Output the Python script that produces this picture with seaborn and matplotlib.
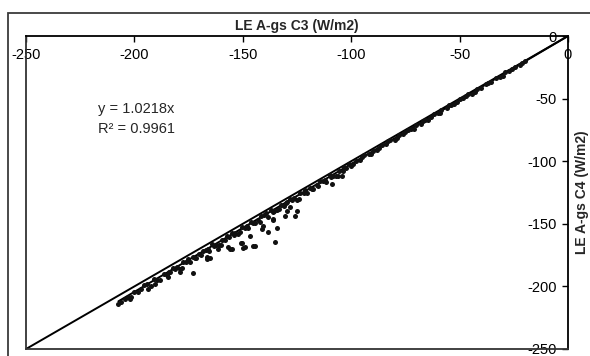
import matplotlib
matplotlib.use("Agg")
import matplotlib.pyplot as plt
import seaborn as sns
import pandas as pd
from matplotlib.patches import Rectangle

# ---------------- data ----------------
band_x_upper = [-20, -22, -24.5, -27, -29, -31.5, -33, -35.5, -38, -40, -42, -44.5, -46, -48.5,
                -50, -52.5, -54, -56, -58.5, -60, -62, -64.5, -66, -68, -70, -72.5, -74, -76,
                -78, -80, -82, -84, -86, -88, -90, -92, -94, -96, -98, -100,
                -21, -26, -30, -37, -43, -47, -51, -55, -59, -63, -67, -71, -75, -79, -83,
                -87, -91, -95, -99]
band_y_upper = [-20.1, -23.1, -24.6, -27.9, -28.8, -32.9, -33.5, -36.7, -38.2, -41.8, -42.6, -46.0,
                -46.1, -49.8, -50.6, -54.6, -54.8, -57.8, -59.1, -61.6, -62.4, -66.7, -67.2, -70.6,
                -70.9, -74.5, -74.7, -78.4, -79.4, -82.9, -83.3, -86.1, -87.1, -90.8, -91.6, -94.5,
                -95.1, -99.4, -99.9, -102.8,
                -21.7, -26.1, -31.7, -37.8, -45.1, -47.6, -52.9, -55.5, -61.3, -64.3, -67.6, -74.0,
                -76.6, -81.7, -83.7, -89.3, -94.5, -96.5, -102.3]

band_x_lower = [-101, -102.5, -104, -105.5, -107, -108.5, -110, -111.5, -113, -114.5, -116, -117.5,
                -119, -120.5, -122, -123.5, -125, -126.5, -128, -129.5, -131, -132.5, -134, -135.5,
                -137, -138.5, -140, -141.5, -143, -144.5, -146, -147.5, -149, -150.5, -152, -153.5,
                -155, -156.5, -158, -159.5, -161, -162.5, -164, -165.5, -167, -168.5, -170, -171.5,
                -173, -174.5, -176, -177.5, -179, -180.5, -182, -183.5, -185, -186.5, -188, -189.5,
                -191, -192.5, -194, -195.5, -197, -198.5, -200, -201.5, -203, -204.5, -206,
                -100.2, -103.2, -106.2, -109.2, -112.2, -115.2, -118.2, -121.2, -124.2, -127.2,
                -130.2, -133.2, -136.2, -139.2, -142.2, -145.2, -148.2, -151.2, -154.2, -157.2,
                -160.2, -163.2, -166.2, -169.2, -172.2, -175.2, -178.2, -181.2, -184.2]
band_y_lower = [-102.4, -105.3, -108.1, -107.5, -111.7, -111.9, -111.3, -116.8, -115.7, -116.2,
                -119.1, -121.9, -121.3, -125.5, -125.7, -125.1, -130.6, -129.5, -130.0, -132.9,
                -135.7, -135.1, -139.3, -139.5, -138.9, -144.4, -143.3, -143.8, -146.7, -149.5,
                -148.9, -153.1, -153.3, -152.7, -158.2, -157.1, -157.6, -160.5, -163.2, -162.7,
                -166.9, -167.0, -166.5, -172.0, -170.8, -171.4, -174.3, -177.0, -176.5, -180.7,
                -180.8, -180.3, -185.8, -184.6, -185.2, -188.1, -190.8, -190.3, -194.5, -194.6,
                -194.1, -199.6, -198.4, -199.0, -201.9, -204.6, -204.1, -208.3, -208.4, -210.2,
                -212.5,
                -103.6, -105.0, -111.8, -112.4, -114.7, -119.7, -122.0, -123.3, -130.2, -130.8,
                -133.0, -138.1, -140.4, -141.7, -148.6, -149.2, -151.4, -156.5, -158.8, -160.1,
                -167.0, -167.6, -169.8, -174.9, -177.2, -178.5, -185.4, -186.0, -188.2]

outlier_x = [-104.4, -109, -125.9, -125.1, -129.8, -128.2, -130.5, -135.9, -134.1, -135.1, -138.2,
             -140.5, -146.7, -145.2, -144.5, -149.8, -151, -155.1, -156.7, -161.3, -165.1, -166.7,
             -172.8, -179, -184.4, -190.5, -193.6, -202, -207.4, -141.3, -150.5, -149, -155.9,
             -166.7, -135.9]
outlier_y = [-112.2, -118.0, -143.4, -139.4, -139.4, -136.8, -143.4, -146.1, -153.6, -164.8, -156.8,
             -151.4, -159.5, -167.5, -168.0, -169.3, -165.6, -170.1, -168.8, -170.1, -177.3, -178.1,
             -189.4, -188.3, -192.8, -198.2, -202.2, -210.2, -213.7, -154.1, -165.6, -168.8, -170.1,
             -176.8, -146.9]

slope = 1.0218
r2 = 0.9961
ticks = [-250, -200, -150, -100, -50, 0]
x_title = "LE A-gs C3 (W/m2)"
y_title = "LE A-gs C4 (W/m2)"

df = pd.DataFrame({
    "c3": band_x_upper + band_x_lower + outlier_x,
    "c4": band_y_upper + band_y_lower + outlier_y,
})

# ---------------- figure ----------------
sns.set_style("white")
plt.rcParams["font.family"] = ["Liberation Sans", "DejaVu Sans"]
plt.rcParams["axes.unicode_minus"] = False

W, H = 590, 356
fig = plt.figure(figsize=(W / 100, H / 100), dpi=100)
ax = fig.add_axes([26 / W, 1 - 349 / H, (568 - 26) / W, (349 - 36) / H])

# outer frame
fig.add_artist(Rectangle((8 / W, -0.1), 1.2, 1 - 13 / H + 0.1, transform=fig.transFigure,
                         fill=False, edgecolor="#3a3a3a", linewidth=1.3))

sns.scatterplot(data=df, x="c3", y="c4", ax=ax, color="#111111", s=13, linewidth=0,
                marker="o", legend=False, zorder=3)

lo, hi = ticks[0], ticks[-1]
ax.plot([lo, hi], [lo, hi], color="black", lw=1.4, zorder=2)
xmin = min(df["c3"])
ax.plot([xmin, 0], [slope * xmin, 0], color="black", lw=1.4, zorder=2)

ax.set_xlim(lo, hi)
ax.set_ylim(lo, hi)
ax.set_xticks(ticks)
ax.set_yticks(ticks)
ax.set_xticklabels([str(t) for t in ticks])
ax.set_yticklabels([str(t) for t in ticks])

ax.xaxis.tick_top()
ax.xaxis.set_label_position("top")
ax.yaxis.tick_right()
ax.yaxis.set_label_position("right")
ax.tick_params(axis="x", direction="in", length=4, width=1, pad=-19, labelsize=10.5, colors="black")
ax.tick_params(axis="y", direction="in", length=4, width=1, pad=-8, labelsize=10.5, colors="black")
for lab in ax.get_yticklabels():
    lab.set_horizontalalignment("right")

for side in ["top", "right"]:
    ax.spines[side].set_color("black")
    ax.spines[side].set_linewidth(1.3)
for side in ["left", "bottom"]:
    ax.spines[side].set_color("#333333")
    ax.spines[side].set_linewidth(1.3)

ax.set_xlabel(x_title, fontsize=10, fontweight="bold", labelpad=4)
ax.set_ylabel(y_title, fontsize=10, fontweight="bold", labelpad=5)

ax.text(0.133, 0.767, f"y = {slope}x", transform=ax.transAxes, fontsize=10.5, va="center")
ax.text(0.133, 0.703, f"R\u00b2 = {r2}", transform=ax.transAxes, fontsize=10.5, va="center")

fig.savefig("out.png", dpi=100)
